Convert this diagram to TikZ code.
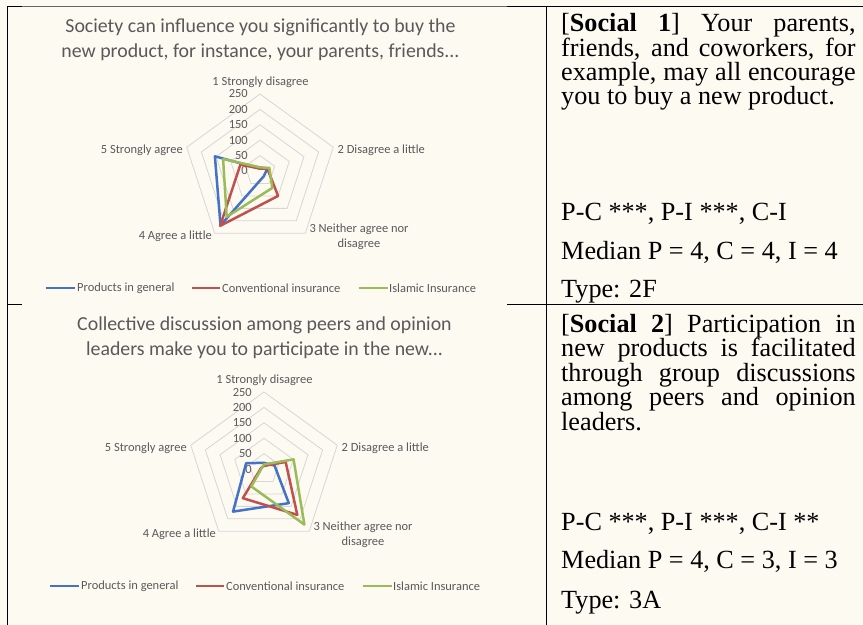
\documentclass[tikz,border=0pt]{standalone}
\usepackage{fontspec}
\setmainfont{Liberation Serif}
\newfontfamily\chartfont{Carlito}
\usetikzlibrary{calc}

\definecolor{pagebg}{RGB}{253,250,242}
\definecolor{labelgray}{RGB}{89,89,89}
\definecolor{gridgray}{RGB}{214,214,214}
\definecolor{seriesP}{RGB}{68,114,196}
\definecolor{seriesC}{RGB}{192,80,77}
\definecolor{seriesI}{RGB}{155,187,89}

% radius of one data unit (250 -> 77bp)
\newcommand\vs{0.308}

\tikzset{
  rule/.style={line width=1.4bp, black},
  celltext/.style={font=\fontsize{26.3}{25}\selectfont, anchor=base west, inner sep=0pt},
  charttitle/.style={font=\chartfont\fontsize{19.9}{25}\selectfont, text=labelgray, align=center, inner sep=0pt},
  axislabel/.style={font=\chartfont\fontsize{12.5}{15}\selectfont, text=labelgray, inner sep=0pt},
  ticklabel/.style={axislabel, anchor=east},
  gridline/.style={draw=gridgray, line width=0.8bp},
  dataline/.style={line width=2.5bp, line join=round},
  legendkey/.style={line width=2.5bp},
}

% one closed data polygon on the five radar axes
\newcommand\seriesline[3]{%
  \foreach \v [count=\k] in {#3}
    \coordinate (#1-\k) at ({72*\k-162}:{\v*\vs});
  \draw[dataline, draw=#2] (#1-1) -- (#1-2) -- (#1-3) -- (#1-4) -- (#1-5) -- cycle;
}

% radar chart: #1 shift, #2 prefix, #3 title, #4/#5/#6 series values
\newcommand\radarchart[6]{%
\begin{scope}[shift={#1}, name prefix=#2-]
  \node[charttitle] (title) at (260.5,40) {#3};
  \node[axislabel] (lab1) at (260.5,82) {1 Strongly disagree};
  \node[axislabel, anchor=west] (lab2) at (337.5,150) {2 Disagree a little};
  \node[axislabel, align=center] (lab3) at (359,236.5) {3 Neither agree nor\\disagree};
  \node[axislabel, anchor=east] (lab4) at (212,236) {4 Agree a little};
  \node[axislabel, anchor=east] (lab5) at (183,150) {5 Strongly agree};
  \begin{scope}[shift={(260,171)}]
    \foreach \g in {50,100,...,250}
      \draw[gridline] ({-90}:{\g*\vs}) -- ({-18}:{\g*\vs}) -- (54:{\g*\vs})
        -- (126:{\g*\vs}) -- (198:{\g*\vs}) -- cycle;
    \foreach \g in {0,50,...,250}
      \node[ticklabel] (tick\g) at (-12,{-\g*\vs}) {\g};
    \seriesline{P}{seriesP}{#4}
    \seriesline{C}{seriesC}{#5}
    \seriesline{I}{seriesI}{#6}
  \end{scope}
  % legend
  \coordinate (keyP0) at (45.6,288); \coordinate (keyP1) at (75.4,288);
  \coordinate (keyC0) at (192,288);  \coordinate (keyC1) at (220,288);
  \coordinate (keyI0) at (358.6,288); \coordinate (keyI1) at (387.7,288);
  \draw[legendkey, seriesP] (keyP0) -- (keyP1);
  \draw[legendkey, seriesC] (keyC0) -- (keyC1);
  \draw[legendkey, seriesI] (keyI0) -- (keyI1);
  \node[axislabel, anchor=west] (legP) at (77,288) {Products in general};
  \node[axislabel, anchor=west] (legC) at (222,288) {Conventional insurance};
  \node[axislabel, anchor=west] (legI) at (389,288) {Islamic Insurance};
\end{scope}}

\newcommand\justline[1]{\makebox[294.5bp][s]{#1}}

\begin{document}
\begin{tikzpicture}[x=1bp,y=-1bp]
  \fill[pagebg] (0,0) rectangle (863,625);
  \useasboundingbox (0,0) rectangle (863,625);

  % table rules
  \draw[rule] (7.7,6.7) -- (7.7,625);
  \draw[rule] (7,6.7) -- (22,6.7);
  \draw[line width=0.9bp, black!60] (22,6.7) -- (507,6.7);
  \draw[rule] (507,6.7) -- (863,6.7);
  \draw[rule] (546.7,6.7) -- (546.7,625);
  \draw[rule] (7.7,304.3) -- (22,304.3);
  \draw[rule] (507,304.3) -- (863,304.3);

  % charts
  \radarchart{(0,0)}{top}
    {Society can influence you significantly to buy the\\new product, for instance, your parents, friends...}
    {8,25,21,218,154}{8,25,100,220,67}{12,32,68,184,126}
  \radarchart{(4,298)}{bottom}
    {Collective discussion among peers and opinion\\leaders make you to participate in the new...}
    {20,36,137,171,61}{10,74,184,117,10}{15,101,223,70,8}

  % upper text cell
  \node[celltext] (s1a) at (561,32)  {\justline{[\textbf{Social 1}] Your parents,}};
  \node[celltext] (s1b) at (561,56.5) {\justline{friends, and coworkers, for}};
  \node[celltext] (s1c) at (561,81)  {\justline{example, may all encourage}};
  \node[celltext] (s1d) at (561,105) {you to buy a new product.};
  \node[celltext] (s1e) at (561,220.7) {P-C ***, P-I ***, C-I};
  \node[celltext] (s1f) at (561,259) {Median P = 4, C = 4, I = 4};
  \node[celltext] (s1g) at (561,297.7) {Type: 2F};

  % lower text cell
  \node[celltext] (s2a) at (561,332)  {\justline{[\textbf{Social 2}] Participation in}};
  \node[celltext] (s2b) at (561,356.5) {\justline{new products is facilitated}};
  \node[celltext] (s2c) at (561,381)  {\justline{through group discussions}};
  \node[celltext] (s2d) at (561,405.5) {\justline{among peers and opinion}};
  \node[celltext] (s2e) at (561,430)  {leaders.};
  \node[celltext] (s2f) at (561,530)  {P-C ***, P-I ***, C-I **};
  \node[celltext] (s2g) at (561,568.3) {Median P = 4, C = 3, I = 3};
  \node[celltext] (s2h) at (561,608.3) {Type: 3A};
\end{tikzpicture}
\end{document}
